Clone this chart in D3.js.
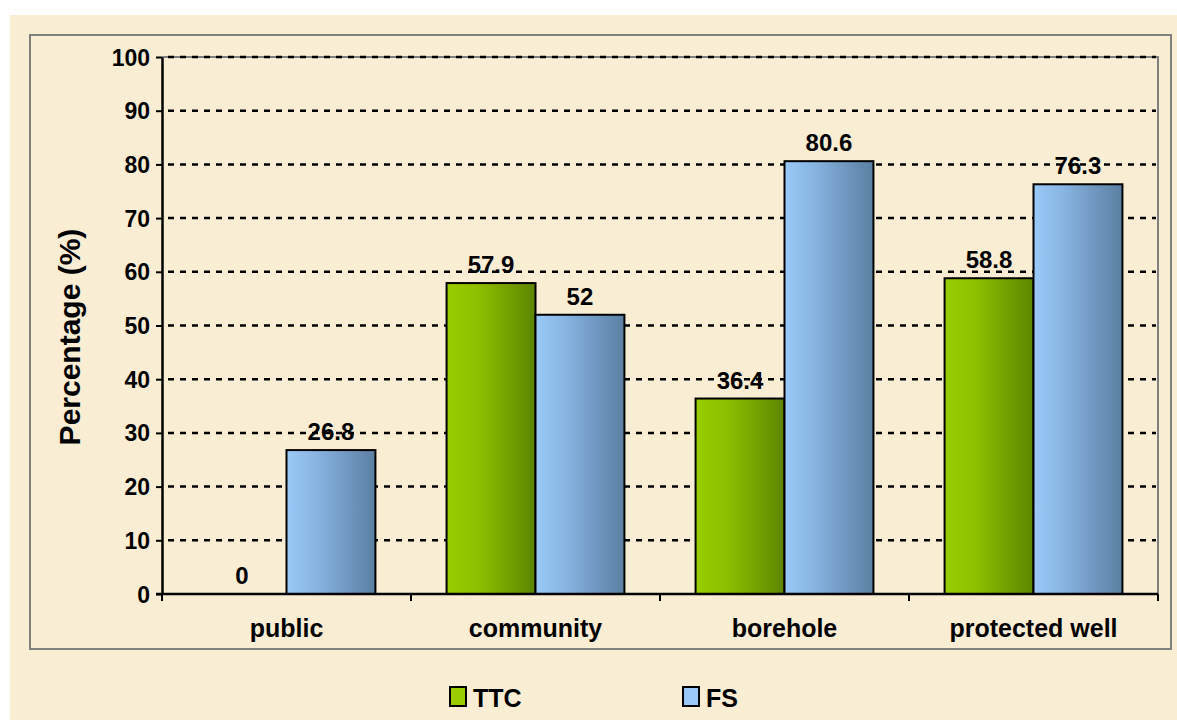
<!DOCTYPE html>
<html>
<head>
<meta charset="utf-8">
<script src="https://cdn.jsdelivr.net/npm/d3@7"></script>
<style>
  body { margin: 0; background: #fff; }
  text { font-family: "Liberation Sans", Arial, sans-serif; font-weight: bold; }
</style>
</head>
<body>
<svg id="chart" width="1177" height="720"></svg>
<script>
// data
const categories = ["public", "community", "borehole", "protected well"]
const seriesNames = ["TTC", "FS"]
const ttcValues = [0, 57.9, 36.4, 58.8]
const fsValues = [26.8, 52, 80.6, 76.3]
const yTicks = [0, 10, 20, 30, 40, 50, 60, 70, 80, 90, 100]

const svg = d3.select("#chart")

// parchment background + outer frame
svg.append("rect").attr("x", 10).attr("y", 15).attr("width", 1167).attr("height", 705)
   .attr("fill", "#f9edd4")
svg.append("rect").attr("x", 30).attr("y", 35).attr("width", 1141).attr("height", 614)
   .attr("fill", "none").attr("stroke", "#808080").attr("stroke-width", 2)

const plot = {left: 162, right: 1158, top: 57, bottom: 594}

const x0 = d3.scaleBand().domain(categories).range([plot.left, plot.right])
const x1 = d3.scaleBand().domain(seriesNames).range([0, x0.bandwidth()])
             .paddingOuter(0.4).paddingInner(0)
const y = d3.scaleLinear().domain([0, 100]).range([plot.bottom, plot.top])

// gradients
const defs = svg.append("defs")
const grads = {
  TTC: ["#9acd00", "#8fbf00", "#5e8500"],
  FS: ["#9ccaf8", "#86b3e0", "#5a7fa2"]
}
Object.entries(grads).forEach(([k, c]) => {
  const g = defs.append("linearGradient").attr("id", "g" + k)
    .attr("x1", 0).attr("x2", 1).attr("y1", 0).attr("y2", 0)
  g.append("stop").attr("offset", "0%").attr("stop-color", c[0])
  g.append("stop").attr("offset", "35%").attr("stop-color", c[1])
  g.append("stop").attr("offset", "100%").attr("stop-color", c[2])
})

// plot area border (top/right gray)
svg.append("path")
   .attr("d", `M${plot.left},${plot.top}H${plot.right}V${plot.bottom}`)
   .attr("fill", "none").attr("stroke", "#808080").attr("stroke-width", 2)

// gridlines
svg.append("g").selectAll("line").data(yTicks.filter(d => d > 0)).join("line")
   .attr("x1", plot.left + 6).attr("x2", plot.right - 2)
   .attr("y1", d => y(d)).attr("y2", d => y(d))
   .attr("stroke", "#000").attr("stroke-width", 2.5).attr("stroke-dasharray", "6,6")

// bars
const rows = categories.map((c, i) => ({cat: c, vals: [
  {key: "TTC", v: ttcValues[i]}, {key: "FS", v: fsValues[i]}]}))

const grp = svg.append("g").selectAll("g").data(rows).join("g")
   .attr("transform", d => `translate(${x0(d.cat)},0)`)

grp.selectAll("rect").data(d => d.vals.filter(e => e.v > 0)).join("rect")
   .attr("x", d => x1(d.key)).attr("width", x1.bandwidth())
   .attr("y", d => y(d.v)).attr("height", d => y(0) - y(d.v))
   .attr("fill", d => `url(#g${d.key})`)
   .attr("stroke", "#000").attr("stroke-width", 2)

grp.selectAll("text").data(d => d.vals).join("text")
   .attr("x", d => x1(d.key) + x1.bandwidth() / 2)
   .attr("y", d => y(d.v) - 10)
   .attr("text-anchor", "middle").attr("font-size", 24)
   .text(d => d.v)

// axes
const yAxis = svg.append("g").attr("transform", `translate(${plot.left},0)`)
   .call(d3.axisLeft(y).tickValues(yTicks).tickSize(6).tickSizeOuter(0))
yAxis.select(".domain").attr("stroke", "#000").attr("stroke-width", 2.5)
yAxis.selectAll(".tick line").attr("stroke", "#000").attr("stroke-width", 2)
yAxis.selectAll(".tick text").attr("font-size", 23).attr("x", -12).attr("dy", "0.35em")
   .attr("fill", "#000")
   .style("font-family", "Liberation Sans, Arial, sans-serif").style("font-weight", "bold")

const xAxis = svg.append("g").attr("transform", `translate(0,${plot.bottom})`)
xAxis.append("line").attr("x1", plot.left - 6).attr("x2", plot.right)
   .attr("stroke", "#000").attr("stroke-width", 2.5)
const bounds = categories.map(c => x0(c)).concat([plot.right])
xAxis.selectAll(".bt").data(bounds).join("line").attr("class", "bt")
   .attr("x1", d => d).attr("x2", d => d).attr("y1", 0).attr("y2", 7)
   .attr("stroke", "#000").attr("stroke-width", 2)
xAxis.selectAll(".cl").data(categories).join("text").attr("class", "cl")
   .attr("x", d => x0(d) + x0.bandwidth() / 2).attr("y", 43)
   .attr("text-anchor", "middle").attr("font-size", 25)
   .text(d => d)

// y title
svg.append("text").attr("transform", `translate(80,337) rotate(-90)`)
   .attr("text-anchor", "middle").attr("font-size", 30).text("Percentage (%)")

// legend
const legendX = [450, 683]
const lg = svg.append("g").selectAll("g").data(seriesNames).join("g")
   .attr("transform", (d, i) => `translate(${legendX[i]},687)`)
lg.append("rect").attr("width", 16).attr("height", 19)
   .attr("fill", d => grads[d][0]).attr("stroke", "#000").attr("stroke-width", 2)
lg.append("text").attr("x", 23).attr("y", 20).attr("font-size", 25).text(d => d)
</script>
</body>
</html>
